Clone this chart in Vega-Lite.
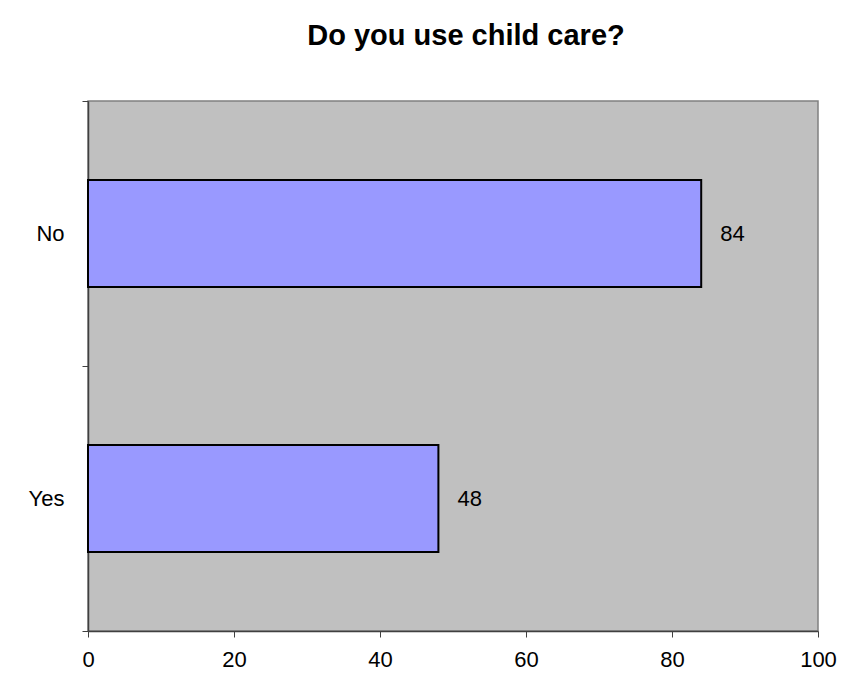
{
  "$schema": "https://vega.github.io/schema/vega-lite/v6.json",
  "autosize": "none",
  "width": 730,
  "height": 530,
  "padding": {"left": 88, "top": 101, "right": 32, "bottom": 69},
  "background": "white",
  "title": {
    "text": "Do you use child care?",
    "font": "Liberation Sans",
    "fontSize": 29,
    "fontWeight": "bold",
    "color": "black",
    "anchor": "middle",
    "baseline": "alphabetic",
    "offset": 16,
    "dx": 13
  },
  "config": {
    "view": {"fill": "#C0C0C0", "stroke": "#808080", "strokeWidth": 1.5},
    "font": "Liberation Sans"
  },
  "data": {
    "values": [
      {"answer": "No", "count": 84},
      {"answer": "Yes", "count": 48}
    ]
  },
  "encoding": {
    "y": {
      "field": "answer",
      "type": "nominal",
      "sort": ["No", "Yes"],
      "scale": {"paddingInner": 0, "paddingOuter": 0},
      "axis": {
        "title": null,
        "tickBand": "extent",
        "tickSize": 6,
        "tickColor": "#404040",
        "domainColor": "#404040",
        "domainWidth": 1.5,
        "labelFontSize": 22,
        "labelColor": "black",
        "labelPadding": 18,
        "labelFont": "Liberation Sans"
      }
    },
    "x": {
      "field": "count",
      "type": "quantitative",
      "scale": {"domain": [0, 100], "nice": false},
      "axis": {
        "title": null,
        "values": [0, 20, 40, 60, 80, 100],
        "grid": false,
        "labelFlush": false,
        "tickSize": 6,
        "tickColor": "#404040",
        "domainColor": "#404040",
        "domainWidth": 1.5,
        "labelFontSize": 22,
        "labelColor": "black",
        "labelPadding": 12,
        "labelFont": "Liberation Sans"
      }
    }
  },
  "layer": [
    {
      "mark": {"type": "bar", "height": {"band": 0.404}, "fill": "#9999FF", "stroke": "black", "strokeWidth": 2}
    },
    {
      "mark": {"type": "text", "align": "left", "baseline": "middle", "dx": 19, "fontSize": 22, "color": "black", "font": "Liberation Sans"},
      "encoding": {"text": {"field": "count", "type": "quantitative"}}
    }
  ]
}
